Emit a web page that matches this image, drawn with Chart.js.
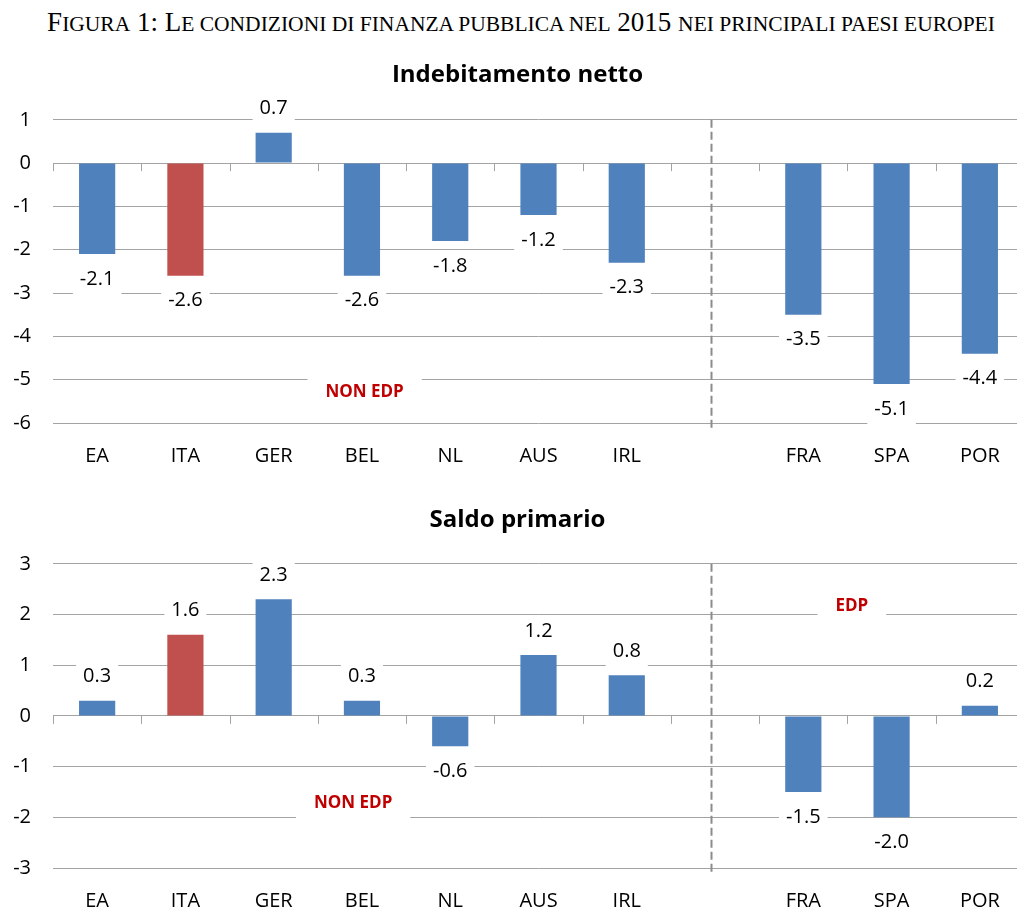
<!DOCTYPE html>
<html>
<head>
<meta charset="utf-8">
<script src="https://cdn.jsdelivr.net/npm/chart.js@4.4.1/dist/chart.umd.min.js"></script>
<style>
  html, body { margin: 0; padding: 0; background: #fff; overflow: hidden; }
  body { width: 1017px; height: 911px; position: relative; }
  #figTitle {
    position: absolute; left: 0; top: 7px; width: 1042px; text-align: center;
    font-family: "Liberation Serif", "Times New Roman", serif;
    font-size: 27px; color: #000; white-space: nowrap;
  }
  #figTitle .sc { font-size: 21.5px; }
  canvas { position: absolute; left: 0; }
  #chartNet { top: 50px; }
  #chartPrim { top: 490px; }
</style>
</head>
<body>
<div id="figTitle">F<span class="sc">IGURA</span> 1: L<span class="sc">E CONDIZIONI DI FINANZA PUBBLICA NEL</span> 2015 <span class="sc">NEI PRINCIPALI PAESI EUROPEI</span></div>
<canvas id="chartNet" width="1030" height="422"></canvas>
<canvas id="chartPrim" width="1030" height="421"></canvas>
<script>
// ---- dati ----
const countries = ['EA', 'ITA', 'GER', 'BEL', 'NL', 'AUS', 'IRL', '', 'FRA', 'SPA', 'POR'];
const netBorrowing = [-2.1, -2.6, 0.7, -2.6, -1.8, -1.2, -2.3, null, -3.5, -5.1, -4.4];
const primaryBalance = [0.3, 1.6, 2.3, 0.3, -0.6, 1.2, 0.8, null, -1.5, -2.0, 0.2];
const netTicks = [1, 0, -1, -2, -3, -4, -5, -6];
const primTicks = [3, 2, 1, 0, -1, -2, -3];

const BLUE = '#4F81BD';
const RED = '#C0504D';
const GRID = '#A3A3A3';
const FONT = '"Open Sans", "Liberation Sans", sans-serif';

const barColors = countries.map(c => c === 'ITA' ? RED : BLUE);

// etichette con sfondo bianco sopra/sotto le barre
const valueLabels = {
    id: 'valueLabels',
    afterDatasetsDraw(chart) {
        const ctx = chart.ctx;
        const meta = chart.getDatasetMeta(0);
        const data = chart.data.datasets[0].data;
        ctx.save();
        ctx.font = '20px ' + FONT;
        ctx.textAlign = 'center';
        ctx.textBaseline = 'middle';
        meta.data.forEach((bar, i) => {
            const v = data[i];
            if (v === null || v === undefined) return;
            const txt = v.toFixed(1);
            const ty = v >= 0 ? bar.y - 24 : bar.y + 25;
            const w = ctx.measureText(txt).width + 14;
            ctx.fillStyle = '#fff';
            ctx.fillRect(bar.x - w / 2, ty - 15, w, 30);
            ctx.fillStyle = '#000';
            ctx.fillText(txt, bar.x, ty);
        });
        ctx.restore();
    }
};

// trattini dell'asse categorie sulla linea dello zero + linea tratteggiata + note EDP
const extras = {
    id: 'extras',
    afterDatasetsDraw(chart, args, opts) {
        const ctx = chart.ctx;
        const x = chart.scales.x;
        const y = chart.scales.y;
        const area = chart.chartArea;
        const y0 = y.getPixelForValue(0);
        const n = chart.data.labels.length;
        const step = x.width / n;
        ctx.save();
        ctx.strokeStyle = GRID;
        ctx.lineWidth = 1;
        ctx.beginPath();
        for (let i = 0; i <= n; i++) {
            const px = Math.round(x.left + i * step) + 0.5;
            ctx.moveTo(px, y0);
            ctx.lineTo(px, y0 + 8);
        }
        ctx.stroke();

        const dx = Math.round(x.getPixelForValue(opts.divider)) + 0.5;
        ctx.strokeStyle = '#8C8C8C';
        ctx.lineWidth = 2;
        ctx.setLineDash([8, 4]);
        ctx.beginPath();
        ctx.moveTo(dx, area.top);
        ctx.lineTo(dx, area.bottom + 6);
        ctx.stroke();
        ctx.setLineDash([]);

        ctx.font = 'bold 17px ' + FONT;
        ctx.textAlign = 'center';
        ctx.textBaseline = 'middle';
        (opts.notes || []).forEach(n => {
            const px = x.getPixelForValue(n.x);
            const py = y.getPixelForValue(n.y);
            const w = ctx.measureText(n.text).width + 36;
            ctx.fillStyle = '#fff';
            ctx.fillRect(px - w / 2, py - 15, w, 30);
            ctx.fillStyle = '#C00000';
            ctx.fillText(n.text, px, py);
        });
        ctx.restore();
    }
};

function makeChart(id, title, values, ticks, titlePad, axisH, notes) {
    const ctx = document.getElementById(id).getContext('2d');
    return new Chart(ctx, {
        type: 'bar',
        data: {
            labels: countries,
            datasets: [{
                data: values,
                backgroundColor: barColors,
                borderWidth: 0,
                categoryPercentage: 1,
                barPercentage: 0.41
            }]
        },
        options: {
            responsive: false,
            animation: false,
            layout: { padding: { left: 11, right: 6, top: 0, bottom: 0 } },
            plugins: {
                legend: { display: false },
                tooltip: { enabled: false },
                title: {
                    display: true,
                    text: title,
                    color: '#000',
                    font: { family: FONT, size: 24, weight: 'bold', lineHeight: 1.2 },
                    padding: titlePad
                },
                extras: { divider: 6.95, notes: notes }
            },
            scales: {
                x: {
                    grid: { display: false },
                    border: { display: false },
                    ticks: { color: '#000', font: { family: FONT, size: 20 }, padding: 13, maxRotation: 0, autoSkip: false },
                    afterFit: s => { s.height = axisH; }
                },
                y: {
                    min: Math.min(...ticks),
                    max: Math.max(...ticks),
                    afterBuildTicks: s => { s.ticks = ticks.map(v => ({ value: v })); },
                    grid: { color: GRID, lineWidth: 1, drawTicks: false },
                    border: { display: false },
                    ticks: { color: '#000', font: { family: FONT, size: 20 }, padding: 22 },
                    afterFit: s => { s.width = 42; }
                }
            }
        },
        plugins: [valueLabels, extras]
    });
}

makeChart('chartNet', 'Indebitamento netto', netBorrowing, netTicks,
    { top: 11, bottom: 30 }, 49,
    [{ text: 'NON EDP', x: 3.03, y: -5.28 }]);

makeChart('chartPrim', 'Saldo primario', primaryBalance, primTicks,
    { top: 16, bottom: 29 }, 43,
    [{ text: 'NON EDP', x: 2.9, y: -1.72 }, { text: 'EDP', x: 8.55, y: 2.16 }]);
</script>
</body>
</html>
